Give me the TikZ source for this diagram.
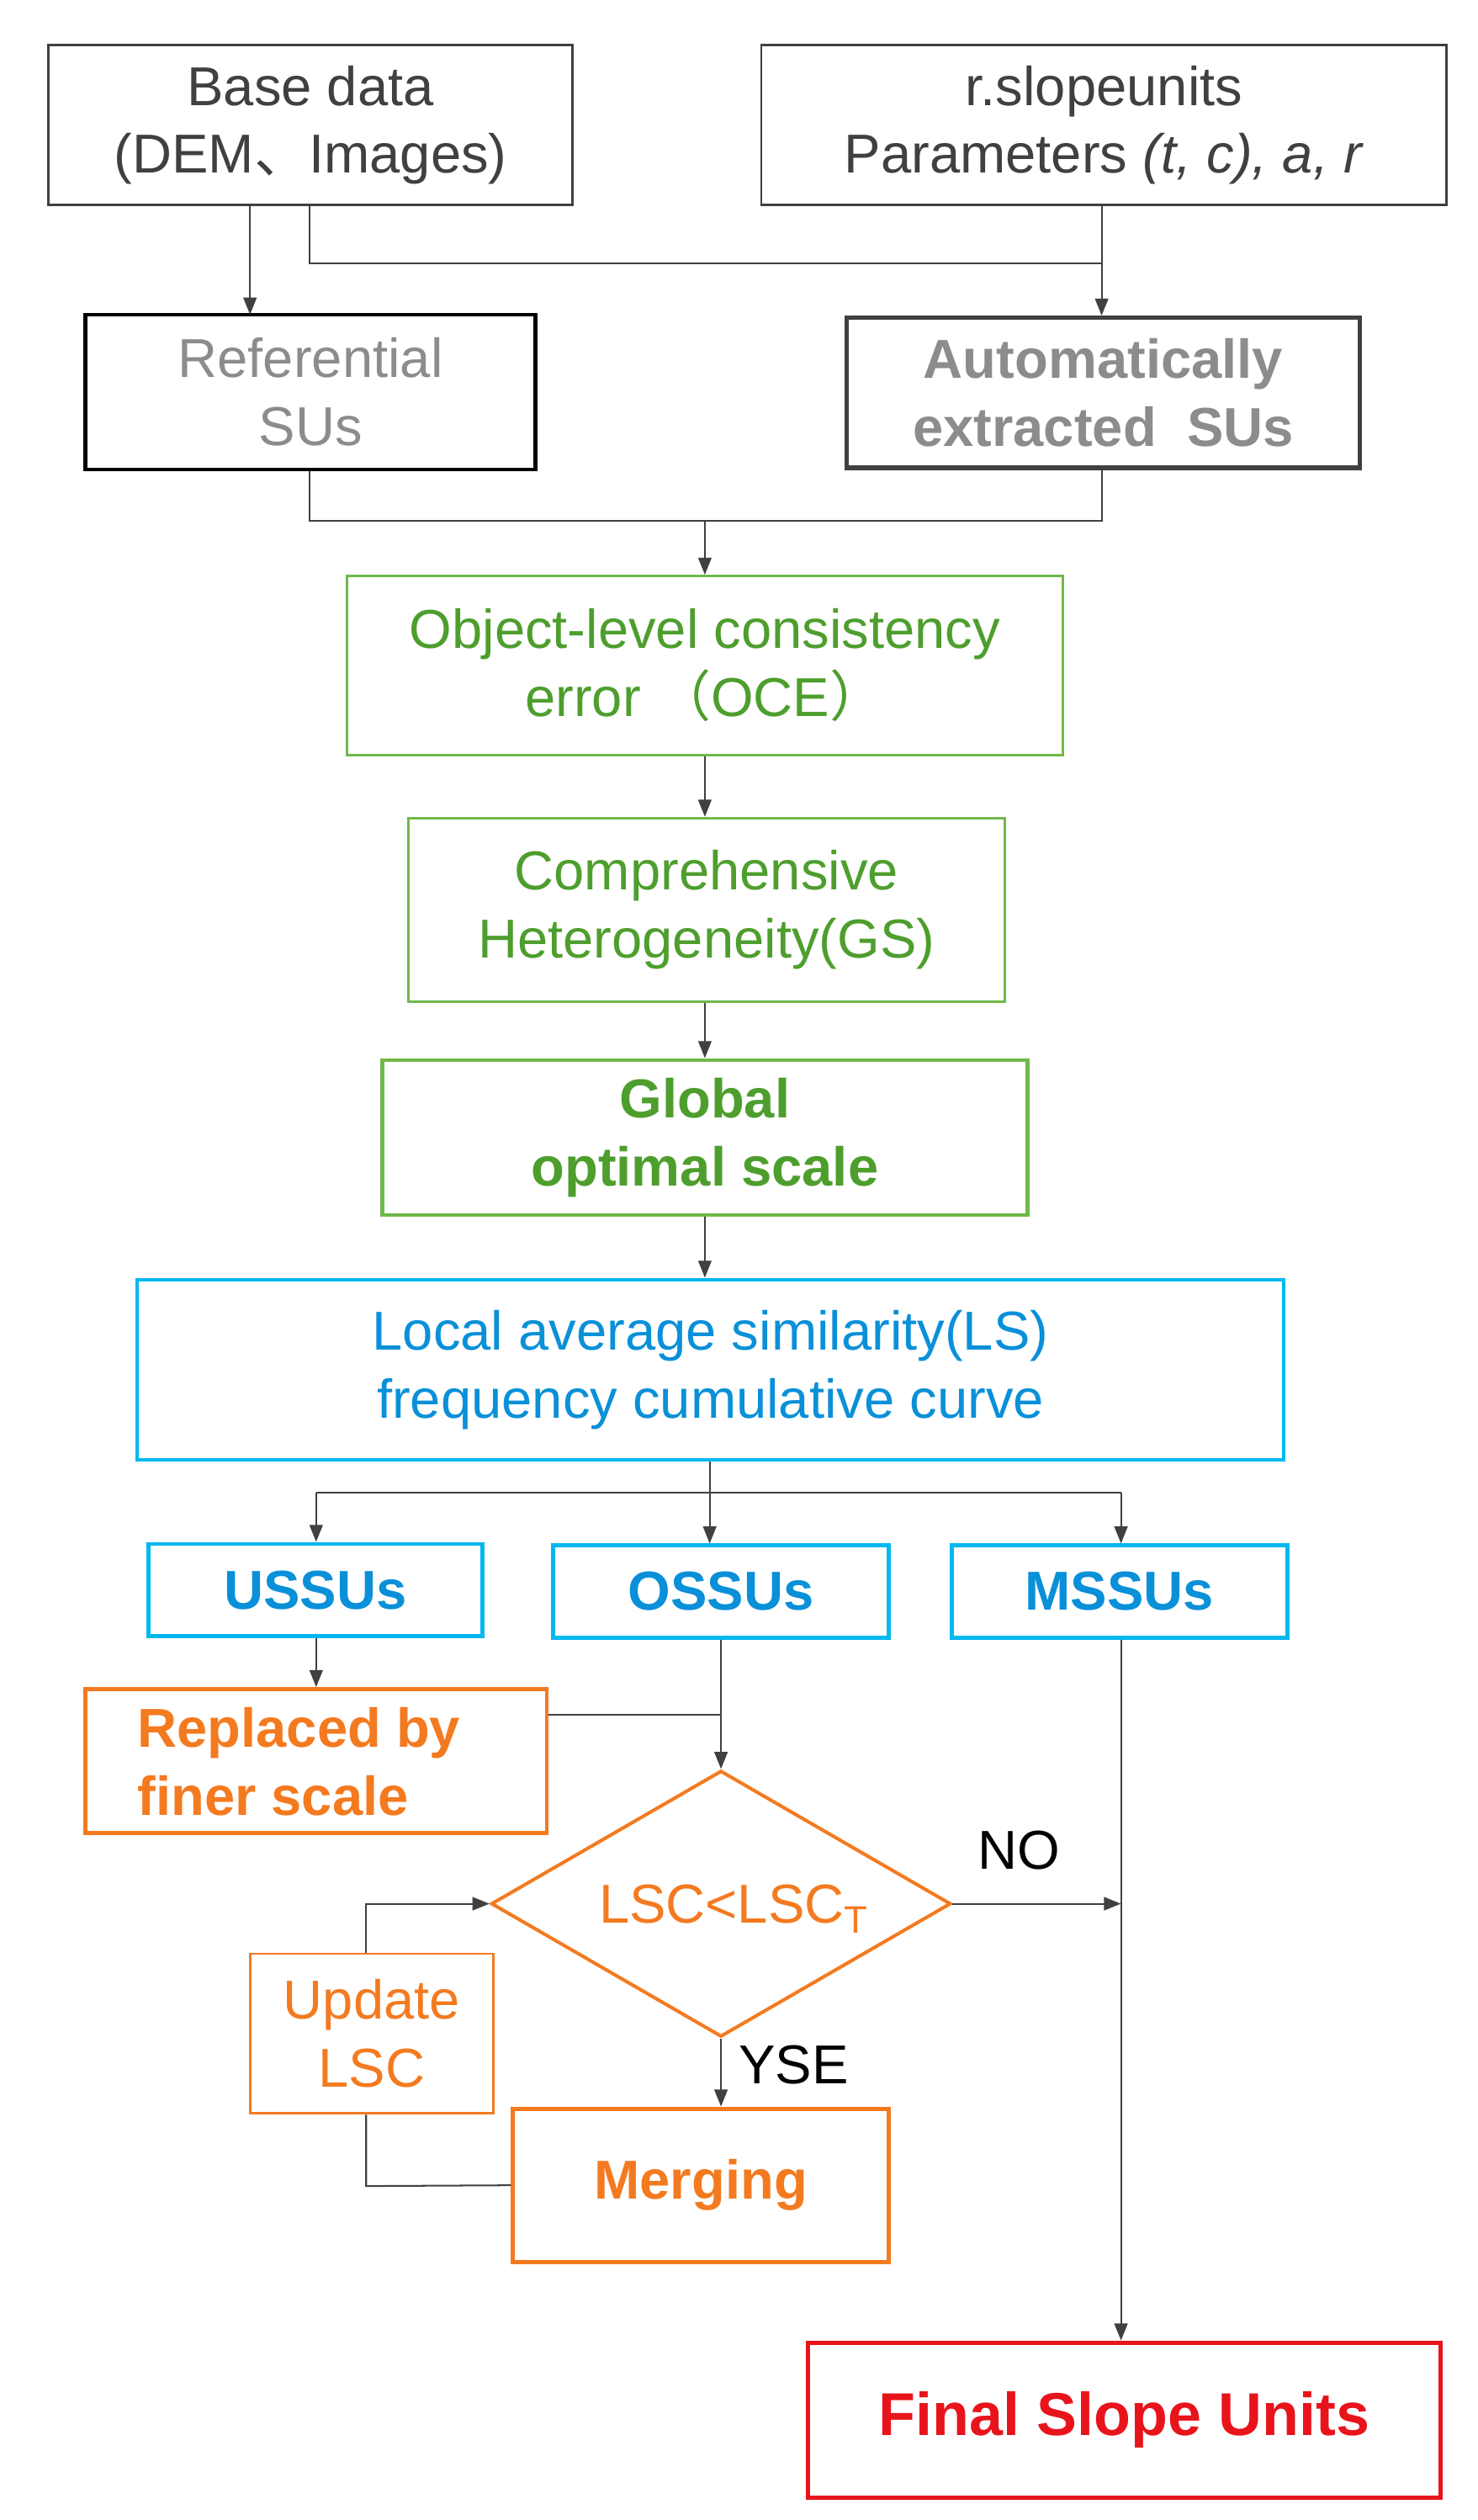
\documentclass[tikz,border=0pt]{standalone}
\usepackage{fontspec}
\setmainfont{Liberation Sans}
\newfontfamily\cjk{Noto Sans CJK SC}
\usetikzlibrary{shapes.geometric,arrows.meta}
\definecolor{dk}{HTML}{404040}
\definecolor{gtxt}{HTML}{8C8C8C}
\definecolor{grn}{HTML}{70B84A}
\definecolor{grt}{HTML}{4E9E2E}
\definecolor{cyn}{HTML}{00B8EE}
\definecolor{cyt}{HTML}{0A90D8}
\definecolor{org}{HTML}{F47A20}
\definecolor{rd}{HTML}{E8141C}
\begin{document}
\begin{tikzpicture}[x=0.03cm,y=-0.03cm,
  every node/.style={font=\fontsize{29}{36}\selectfont,align=center,inner sep=0pt},
  bf/.style={font=\fontsize{29}{36}\selectfont\bfseries},
  bx/.style={draw,line width=1.3pt},
  ln/.style={draw=dk,line width=0.9pt},
  ar/.style={ln,-{Triangle[length=9pt,width=7pt]}}]
\useasboundingbox (0,0) rectangle (916,1562);
\newcommand\bx[6]{\node[bx,#6,minimum width=(#3-#2)*0.03cm,minimum height=(#5-#4)*0.03cm] (#1) at ({(#2+#3)/2},{(#4+#5)/2}) {};}
\bx{base}{30}{355}{28}{127}{draw=dk}
\node[text=dk] at (base) {Base data\\(DEM{\cjk 、}Images)};
\bx{rs}{472}{897}{28}{127}{draw=dk}
\node[text=dk] at (rs) {r.slopeunits\\Parameters \textit{(t, c), a, r}};
\bx{ref}{53}{332}{195}{291}{draw=black,line width=2pt}
\node[text=gtxt] at (ref) {Referential\\SUs};
\bx{auto}{525}{843}{197}{290}{draw=dk,line width=2.4pt}
\node[text=gtxt,bf] at (auto) {Automatically\\extracted\ \ SUs};
\bx{oce}{215}{659}{357}{468}{draw=grn}
\node[text=grt] at (oce) {Object-level consistency\\error\ {\cjk （}OCE{\cjk ）}};
\bx{ch}{253}{623}{507}{621}{draw=grn}
\node[text=grt] at (ch) {Comprehensive\\Heterogeneity(GS)};
\bx{gl}{237}{637}{657}{753}{draw=grn,line width=2pt}
\node[text=grt,bf] at (gl) {Global\\optimal scale};
\bx{ls}{85}{796}{793}{905}{draw=cyn,line width=1.8pt}
\node[text=cyt] at (ls) {Local average similarity(LS)\\frequency cumulative curve};
\bx{us}{92}{299}{957}{1014}{draw=cyn,line width=2.2pt}
\node[text=cyt,bf] at (us) {USSUs};
\bx{os}{343}{551}{958}{1015}{draw=cyn,line width=2.2pt}
\node[text=cyt,bf] at (os) {OSSUs};
\bx{ms}{590}{798}{958}{1015}{draw=cyn,line width=2.2pt}
\node[text=cyt,bf] at (ms) {MSSUs};
\bx{rep}{53}{339}{1047}{1136}{draw=org,line width=2.2pt}
\node[text=org,bf,align=left,anchor=west] at (85,1092) {Replaced by\\finer scale};
\node[draw=org,line width=1.8pt,diamond,minimum width=285*0.03cm,minimum height=165*0.03cm,aspect=1.73,inner sep=0pt] (dm) at (447,1180) {};
\node[text=org] at (455,1183) {LSC<LSC\textsubscript{T}};
\bx{up}{155}{306}{1211}{1310}{draw=org}
\node[text=org] at (up) {Update\\LSC};
\bx{mg}{318}{551}{1307}{1402}{draw=org,line width=2.2pt}
\node[text=org,bf] at (mg) {Merging};
\bx{fin}{501}{893}{1452}{1548}{draw=rd,line width=2.2pt}
\node[text=rd,font=\fontsize{32}{38}\selectfont\bfseries] at (fin) {Final Slope Units};
% connectors
\coordinate (j1) at (192,163);
\draw[ar] (base.south -| 155,0) -- (155,195);
\draw[ln] (base.south -| j1) -- (j1) -- (683,163);
\draw[ar] (rs.south -| 683,0) -- (auto.north -| 683,0);
\draw[ln] (ref.south -| 192,0) -- (192,323) -- (683,323) -- (auto.south -| 683,0);
\draw[ar] (437,323) -- (oce.north -| 437,0);
\draw[ar] (oce.south -| 437,0) -- (ch.north -| 437,0);
\draw[ar] (ch.south -| 437,0) -- (gl.north -| 437,0);
\draw[ar] (gl.south -| 437,0) -- (ls.north -| 437,0);
\draw[ln] (ls.south -| 440,0) -- (440,925);
\draw[ln] (196,925) -- (695,925);
\draw[ar] (196,925) -- (us.north -| 196,0);
\draw[ar] (440,925) -- (os.north -| 440,0);
\draw[ar] (695,925) -- (ms.north -| 695,0);
\draw[ar] (us.south -| 196,0) -- (rep.north -| 196,0);
\draw[ar] (os.south -| 447,0) -- (dm.north);
\draw[ln] (rep.east |- 0,1063) -- (447,1063);
\draw[ar] (dm.east) -- (695,1180);
\node[text=black] at (632,1147) {NO};
\draw[ar] (ms.south -| 695,0) -- (fin.north -| 695,0);
\draw[ar] (dm.south) -- (mg.north -| 447,0);
\node[text=black] at (492,1280) {YSE};
\draw[ln] (mg.west) -- (227,1355) -- (up.south -| 227,0);
\draw[ar] (up.north -| 227,0) -- (227,1180) -- (dm.west);
\end{tikzpicture}
\end{document}
